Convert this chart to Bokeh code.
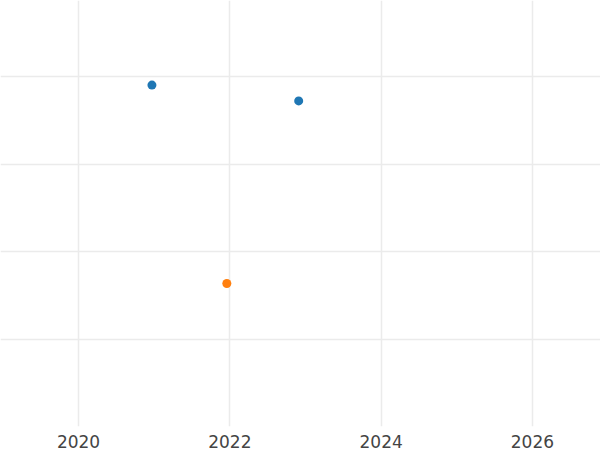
from bokeh.plotting import figure
from bokeh.models import FixedTicker, Range1d
from bokeh.embed import file_html
from bokeh.resources import INLINE

# data
blue_x = [2020.97, 2022.91]
blue_y = [3.90, 3.72]
orange_x = [2021.96]
orange_y = [1.64]
x_ticks = [2020, 2022, 2024, 2026]
y_ticks = [1, 2, 3, 4]

p = figure(width=600, height=450, output_backend="svg", toolbar_location=None,
           x_range=Range1d(2018.968, 2026.90), y_range=Range1d(0.011, 4.864),
           min_border=0)
p.outline_line_color = None
p.background_fill_color = "white"
p.border_fill_color = "white"

p.xaxis.ticker = FixedTicker(ticks=x_ticks)
p.xaxis.axis_line_color = None
p.xaxis.major_tick_line_color = None
p.xaxis.minor_tick_line_color = None
p.xaxis.major_tick_out = 0
p.xaxis.major_tick_in = 0
p.xaxis.major_label_standoff = 8
p.xaxis.major_label_text_font = "DejaVu Sans"
p.xaxis.major_label_text_font_size = "17px"
p.xaxis.major_label_text_color = "#444444"

p.yaxis.ticker = FixedTicker(ticks=y_ticks)
p.yaxis.visible = False

p.xgrid.ticker = FixedTicker(ticks=x_ticks)
p.ygrid.ticker = FixedTicker(ticks=y_ticks)
p.xgrid.grid_line_color = "#ebebeb"
p.ygrid.grid_line_color = "#ebebeb"
p.xgrid.grid_line_width = 1.5
p.ygrid.grid_line_width = 1.5

p.scatter(blue_x, blue_y, size=9, color="#1f77b4", line_color=None)
p.scatter(orange_x, orange_y, size=9, color="#ff7f0e", line_color=None)

open("out.html", "w").write(file_html(p, INLINE))
